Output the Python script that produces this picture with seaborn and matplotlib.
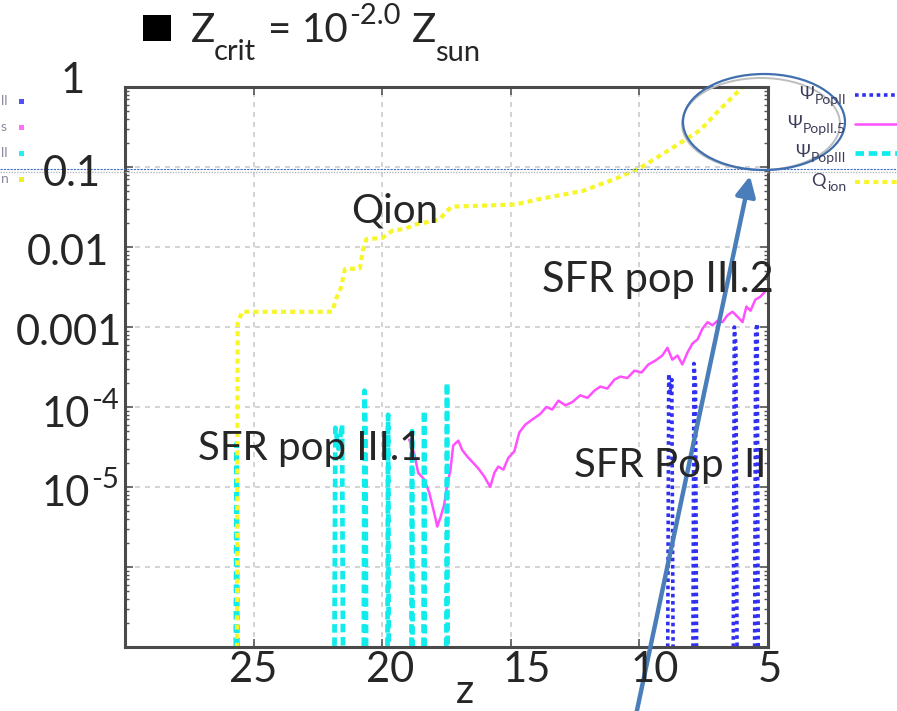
import matplotlib
matplotlib.use("Agg")
import numpy as np
import pandas as pd
import matplotlib.pyplot as plt
import seaborn as sns
from matplotlib.patches import Ellipse, Rectangle, FancyArrowPatch
from matplotlib.lines import Line2D
from matplotlib.ticker import LogLocator, FixedLocator, NullFormatter

# ---------------- data ----------------
qion_z = [25.66, 25.62, 25.45, 21.95, 21.78, 21.60, 21.45, 20.87, 20.75, 20.62,
          20.00, 19.60, 19.07, 18.75, 17.78, 17.50, 17.28, 14.82, 13.85, 12.22,
          10.90, 10.00, 8.95, 7.63, 6.96, 5.99, 5.80]
qion_v = [1e-9, 1.1e-3, 1.55e-3, 1.55e-3, 2.3e-3, 3.1e-3, 5.3e-3, 5.4e-3, 9e-3, 1.25e-2,
          1.3e-2, 1.6e-2, 1.7e-2, 1.9e-2, 2.2e-2, 2.8e-2, 3.2e-2, 3.4e-2, 4.0e-2, 5.0e-2,
          7.2e-2, 9.6e-2, 0.155, 0.29, 0.49, 1.0, 1.2]

pop3_z = [25.72, 25.66, 25.60,
          21.88, 21.82, 21.70, 21.56, 21.50,
          20.73, 20.69, 20.65, 20.61,
          19.81, 19.77, 19.73,
          18.88, 18.84, 18.80,
          18.41, 18.37, 18.33,
          17.52, 17.48, 17.44]
pop3_v = [1e-9, 3.5e-5, 1e-9,
          1e-9, 5.5e-5, 3e-5, 6e-5, 1e-9,
          1e-9, 1.6e-4, 6e-5, 1e-9,
          1e-9, 8e-5, 1e-9,
          1e-9, 5e-5, 1e-9,
          1e-9, 9e-5, 1e-9,
          1e-9, 2e-4, 1e-9]

pop35_z = [18.95, 18.75, 18.60, 18.37, 18.17, 17.94, 17.86, 17.74, 17.59, 17.47,
           17.35, 17.24, 17.04, 16.89, 16.69, 16.46, 16.26, 16.03, 15.80, 15.64,
           15.49, 15.29, 15.10, 14.86, 14.67, 14.44, 14.16, 13.85, 13.62, 13.39,
           13.15, 12.88, 12.61, 12.30, 12.02, 11.75, 11.52, 11.25, 10.97, 10.74,
           10.47, 10.19, 9.92, 9.65, 9.38, 9.11, 8.91, 8.72, 8.52, 8.33,
           8.13, 7.94, 7.74, 7.55, 7.35, 7.16, 6.96, 6.77, 6.58, 6.38,
           6.19, 5.99, 5.84, 5.68, 5.49, 5.29, 5.06]
pop35_v = [3.9e-5, 2.6e-5, 1.5e-5, 1.25e-5, 8.5e-6, 4.2e-6, 3.2e-6, 4.1e-6, 6.0e-6, 1.1e-5,
           1.6e-5, 3.3e-5, 3.8e-5, 2.9e-5, 2.4e-5, 2.0e-5, 1.7e-5, 1.35e-5, 1.0e-5, 1.5e-5,
           1.8e-5, 1.65e-5, 2.3e-5, 2.8e-5, 4.8e-5, 6.0e-5, 7.0e-5, 8.2e-5, 1.0e-4, 9.3e-5,
           1.2e-4, 1.05e-4, 1.15e-4, 1.4e-4, 1.3e-4, 1.6e-4, 1.8e-4, 1.7e-4, 2.2e-4, 2.4e-4,
           2.3e-4, 2.85e-4, 2.7e-4, 3.4e-4, 3.8e-4, 4.4e-4, 5.5e-4, 3.9e-4, 4.4e-4, 3.4e-4,
           4.8e-4, 6.2e-4, 7.0e-4, 9.5e-4, 1.15e-3, 1.05e-3, 1.2e-3, 1.15e-3, 1.4e-3, 1.55e-3,
           1.35e-3, 1.15e-3, 1.8e-3, 1.6e-3, 2.2e-3, 2.4e-3, 2.9e-3]

pop2_z = [8.92, 8.86, 8.80, 8.74, 8.66,
          7.94, 7.88, 7.82, 7.75,
          6.37, 6.31, 6.25, 6.18,
          5.54, 5.48, 5.42, 5.36]
pop2_v = [1e-9, 2.6e-4, 1.5e-4, 2.2e-4, 1e-9,
          1e-9, 3.5e-4, 2e-4, 1e-9,
          1e-9, 1.0e-3, 6e-4, 1e-9,
          1e-9, 9e-4, 1.1e-3, 1e-9]

x_ticks = [25, 20, 15, 10]
y_ticks = [1e-1, 1e-2, 1e-3, 1e-4, 1e-5, 1e-6]
x_tick_labels = ["25", "20", "15", "10", "5"]
y_plain_labels = ["1", "0.1", "0.01", "0.001"]
y_pow_labels = [("10", "-4"), ("10", "-5")]
legend_main = ["\u03a8", "\u03a8", "\u03a8", "Q"]
legend_sub = ["PopII", "PopII.5", "PopIII", "ion"]

# ---------------- style ----------------
sns.set_theme(style="white")
plt.rcParams['font.family'] = ['Lato', 'DejaVu Sans']

W, H = 897, 711
fig = plt.figure(figsize=(W / 100, H / 100), dpi=100)
renderer = fig.canvas.get_renderer()


def fx(px):
    return px / W


def fy(py):
    return 1 - py / H


ax = fig.add_axes([fx(125), fy(647), fx(768) - fx(125), fy(87) - fy(647)])

df2 = pd.DataFrame({"z": pop2_z, "v": pop2_v})
df35 = pd.DataFrame({"z": pop35_z, "v": pop35_v})
df3 = pd.DataFrame({"z": pop3_z, "v": pop3_v})
dfq = pd.DataFrame({"z": qion_z, "v": qion_v})

sns.lineplot(data=df2, x="z", y="v", ax=ax, sort=False, estimator=None,
             color="#3030f0", lw=2.6, linestyle=(0, (1.0, 1.0)))
sns.lineplot(data=df35, x="z", y="v", ax=ax, sort=False, estimator=None,
             color="#ff50ff", lw=1.8)
sns.lineplot(data=df3, x="z", y="v", ax=ax, sort=False, estimator=None,
             color="#10ecec", lw=3.4, linestyle=(0, (1.8, 1.0)))
sns.lineplot(data=dfq, x="z", y="v", ax=ax, sort=False, estimator=None,
             color="#f6f62a", lw=3.0, linestyle=(0, (1.2, 1.0)))
lines = ax.get_lines()[-4:]

ax.set_yscale("log")
ax.set_xlim(30, 5)
ax.set_ylim(1e-7, 1)
ax.xaxis.set_major_locator(FixedLocator(x_ticks))
ax.yaxis.set_major_locator(FixedLocator(y_ticks))
ax.yaxis.set_minor_locator(LogLocator(base=10, subs=np.arange(2, 10)))
ax.yaxis.set_minor_formatter(NullFormatter())
ax.set_xlabel("")
ax.set_ylabel("")
ax.grid(True, which="major", color="#cccccc", ls=(0, (3, 3)), lw=1.2)
ax.tick_params(which="both", direction="in", top=True, right=True, bottom=True, left=True,
               labelbottom=False, labelleft=False, color="#555555")
ax.tick_params(which="major", length=6, width=1.2)
ax.tick_params(which="minor", length=3, width=1.0)
for s in ax.spines.values():
    s.set_color("#4a4a4a")
    s.set_linewidth(2.2)

# legend: handles from the plotted lines; the labels are typeset beside them below
leg = ax.legend(lines, [" "] * 4, loc="upper left",
                bbox_to_anchor=(fx(855), fy(88)), bbox_transform=fig.transFigure,
                frameon=False, markerfirst=True, handlelength=5.5, handletextpad=0.2,
                labelspacing=0.72, fontsize=13, borderpad=0, borderaxespad=0)

fig.canvas.draw()


def text_width(t):
    return t.get_window_extent(renderer=renderer).width


leg_col = "#3c3c58"
for h, m, sb in zip(leg.legend_handles, legend_main, legend_sub):
    bb = h.get_window_extent(renderer)
    yc = H - (bb.y0 + bb.y1) / 2.0  # pixel row from top
    x_end = bb.x0 - 9
    ts = fig.text(fx(x_end), fy(yc + 9), sb, fontsize=10, ha="right", va="baseline",
                  color=leg_col)
    fig.text(fx(x_end - text_width(ts) - 1), fy(yc + 4), m, fontsize=13, ha="right",
             va="baseline", color=leg_col)

# ---------------- slide overlays ----------------
fs = 29
sub_fs = 21


def power_label(x_right, base_y, base, exp, size, exp_size, rise):
    tb = fig.text(0, fy(base_y), base, fontsize=size, ha="left", va="baseline")
    te = fig.text(0, fy(base_y - rise), exp, fontsize=exp_size, ha="left", va="baseline")
    wb, we = text_width(tb), text_width(te)
    x0 = x_right - wb - we
    tb.set_x(fx(x0))
    te.set_x(fx(x0 + wb + 1))


# title
fig.add_artist(Rectangle((fx(143), fy(41)), 28 / W, 26 / H, transform=fig.transFigure,
                         facecolor="black", edgecolor="none"))
fig.text(fx(191), fy(42), "Z", fontsize=fs, ha="left", va="baseline")
fig.text(fx(214), fy(60), "crit", fontsize=sub_fs, ha="left", va="baseline")
fig.text(fx(268), fy(42), "=", fontsize=fs, ha="left", va="baseline")
fig.text(fx(302), fy(42), "10", fontsize=fs, ha="left", va="baseline")
fig.text(fx(349), fy(24), "-2.0", fontsize=sub_fs, ha="left", va="baseline")
fig.text(fx(412), fy(42), "Z", fontsize=fs, ha="left", va="baseline")
fig.text(fx(435), fy(61), "sun", fontsize=sub_fs, ha="left", va="baseline")

# y labels
y_right = [85, 101, 109, 122]
y_base = [93, 186, 265, 345]
for lab, xr, yb in zip(y_plain_labels, y_right, y_base):
    fig.text(fx(xr), fy(yb), lab, fontsize=fs + 1, ha="right", va="baseline")
for (b, e), yb in zip(y_pow_labels, [427, 506]):
    power_label(118, yb, b, e, fs + 1, sub_fs, 18)

# x labels
x_center = [253, 390, 527, 655, 770]
for lab, xc in zip(x_tick_labels, x_center):
    fig.text(fx(xc), fy(682), lab, fontsize=fs + 1, ha="center", va="baseline")
fig.text(fx(465), fy(703), "z", fontsize=fs, ha="center", va="baseline")

# annotations
fig.text(fx(351), fy(222), "Qion", fontsize=fs, ha="left", va="baseline")
fig.text(fx(542), fy(292), "SFR pop III.2", fontsize=fs + 1, ha="left", va="baseline")
fig.text(fx(198), fy(460), "SFR pop III.1", fontsize=fs, ha="left", va="baseline")
fig.text(fx(574), fy(477), "SFR Pop  II", fontsize=fs, ha="left", va="baseline")

# horizontal guide lines across the slide
fig.add_artist(Line2D([0, 1], [fy(172), fy(172)], transform=fig.transFigure,
                      color="#b8b8b8", lw=1.0, ls=(0, (1, 1))))
fig.add_artist(Line2D([0, 1], [fy(169), fy(169)], transform=fig.transFigure,
                      color="#3d6fc0", lw=0.8, ls=(0, (2, 1))))

# ellipse highlight
fig.add_artist(Ellipse((fx(761), fy(124)), 158 / W, 92 / H, transform=fig.transFigure,
                       fill=False, edgecolor="#bdbdbd", lw=1.4))
fig.add_artist(Ellipse((fx(764), fy(122)), 162 / W, 96 / H, transform=fig.transFigure,
                       fill=False, edgecolor="#3f6fae", lw=1.6))

# arrow
fig.add_artist(FancyArrowPatch(posA=(fx(636), fy(715)), posB=(fx(750), fy(176)),
                               transform=fig.transFigure, arrowstyle="-|>",
                               mutation_scale=30, lw=3.2, color="#4a7ebb",
                               shrinkA=0, shrinkB=0))

# cut-off legend of neighbouring panel (left edge)
frag_txt = ["ll", "s", "ll", "n"]
frag_col = ["#5050ff", "#ff70ff", "#20f0f0", "#f0f020"]
frag_y = [101, 127, 153, 179]
for t, c, yy in zip(frag_txt, frag_col, frag_y):
    fig.text(fx(1), fy(yy), t, fontsize=10, ha="left", va="center", color="#8a8aa0")
    fig.add_artist(Rectangle((fx(19), fy(yy + 2.5)), 5 / W, 5 / H, transform=fig.transFigure,
                             facecolor=c, edgecolor="none"))

fig.savefig("out.png", dpi=100)
